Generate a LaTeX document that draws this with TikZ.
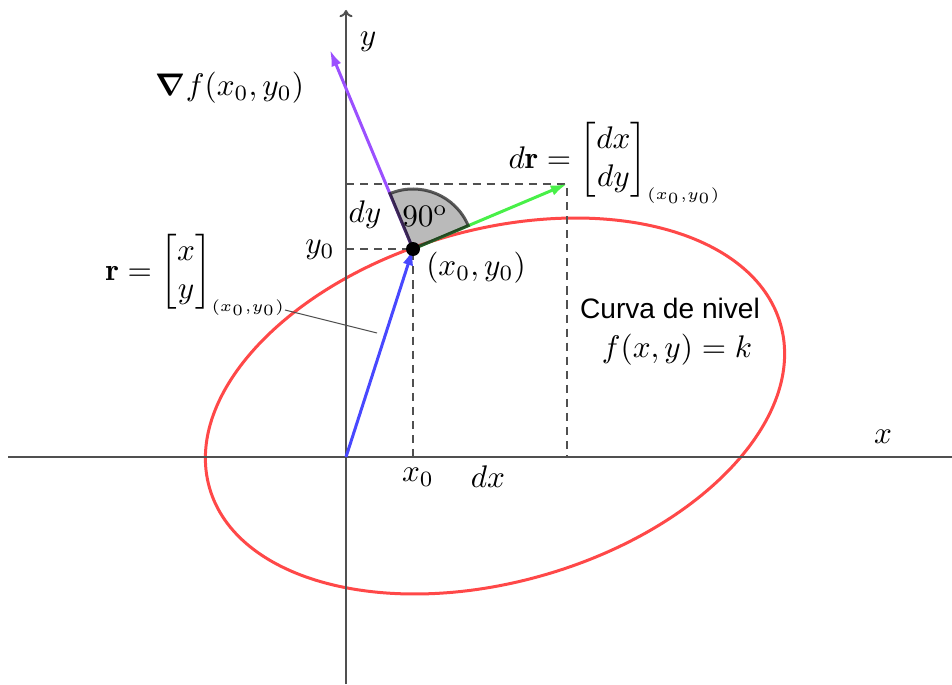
\documentclass[tikz,border=0pt]{standalone}
\usepackage{amsmath,amssymb}
\usepackage{fontspec}
\newfontfamily\arialfont{Liberation Sans}
\usepackage{tikz}
\usetikzlibrary{arrows.meta, calc}
\definecolor{CurveRed}{RGB}{255,72,72}
\definecolor{VecBlue}{RGB}{72,72,255}
\definecolor{GradPurple}{RGB}{155,80,255}
\definecolor{TanGreen}{RGB}{72,240,72}
\definecolor{AxisGray}{RGB}{80,80,80}

\begin{document}
\begin{tikzpicture}[
  x=0.32pt, y=0.32pt,
  axis/.style={AxisGray, line width=0.64pt},
  guide/.style={AxisGray, line width=0.5pt, dash pattern=on 2.6pt off 1.9pt},
  vec/.style={line width=0.96pt, -{Latex[length=5.2pt,width=3.4pt]}},
  lbl/.style={inner sep=0pt},
]
\useasboundingbox (0,0) rectangle (952,684);

% Points
\coordinate (O) at (346,227);
\coordinate (P) at (413,435);
\coordinate (T) at (567,500);
\coordinate (G) at (330,634);
\coordinate (xl) at (8,227);
\coordinate (xr) at (952,227);
\coordinate (yb) at (346,0);
\coordinate (yt) at (346,674);

% Level curve
\draw[CurveRed, line width=0.96pt, rotate around={16:(495,278)}]
  (495,278) ellipse [x radius=297, y radius=176];

% Guides
\draw[guide] (O |- P) -- (P) -- (P |- O);
\draw[guide] (O |- T) -- (T) -- (T |- O);

% Axes
\draw[axis] (xl) -- (xr);
\draw[axis, -{To[length=2.3pt,width=4.2pt]}] (yb) -- (yt);
\node[lbl] (xlab) at (883,247) {$x$};
\node[lbl] (ylab) at (368,642) {$y$};

% Vectors
\draw[vec, VecBlue] (O) -- (P);
\draw[vec, TanGreen] (P) -- (T);
\draw[vec, GradPurple] (P) -- (G);

% Right angle
\filldraw[fill=black, fill opacity=0.27, draw=black!90, draw opacity=0.7,
  line width=0.96pt]
  (P) -- ++(22.9:60) arc[start angle=22.9, end angle=112.6, radius=60] -- cycle;
\fill (P) circle (7);

% Labels
\node[lbl] (ang) at (425,468) {$90^{\mathrm{o}}$};
\node[lbl] (dy) at (365,469) {$dy$};
\node[lbl] (y0) at (320,434) {$y_0$};
\node[lbl] (p0) at (476,416) {$(x_0,y_0)$};
\node[lbl] (x0) at (418,207) {$x_0$};
\node[lbl] (dx) at (488,207) {$dx$};
\node[lbl] (grad) at (230,596) {$\boldsymbol{\nabla} f(x_0,y_0)$};
\node[lbl, anchor=base west] (rlab) at (105,404)
  {$\mathbf{r}=\begin{bmatrix}x\\y\end{bmatrix}_{\scriptscriptstyle(x_0,y_0)}$};
\node[lbl, anchor=base west] (drlab) at (508,516)
  {$d\mathbf{r}=\begin{bmatrix}dx\\dy\end{bmatrix}_{\scriptscriptstyle(x_0,y_0)}$};
\node[lbl, font=\arialfont\fontsize{9pt}{11pt}\selectfont] (curva) at (670,376)
  {Curva de nivel};
\node[lbl] (fk) at (677,334) {$f(x,y)=k$};

% Leader
\coordinate (rlead) at (285,374);
\coordinate (rend) at (377,351);
\draw[AxisGray, line width=0.32pt] (rlead) -- (rend);

\end{tikzpicture}
\end{document}
